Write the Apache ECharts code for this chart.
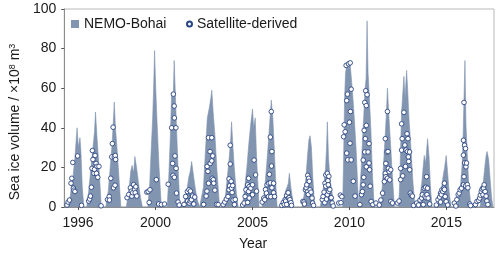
<!DOCTYPE html>
<html><head><meta charset="utf-8">
<script src="https://cdn.jsdelivr.net/npm/echarts@6/dist/echarts.min.js"></script>
<style>html,body{margin:0;padding:0;background:#fff}#c{width:500px;height:256px}</style>
</head><body><div id="c"></div><script>
// NEMO-Bohai modelled sea ice volume (decimal year, 10^8 m^3)
const nemoYear = [
1995.44,1995.59,1995.74,1995.84,1995.95,1996.02,1996.10,1996.15,1996.22,1996.30,
1996.45,1996.55,1996.65,1996.75,1996.85,1996.90,1996.98,1997.05,1997.13,1997.20,
1997.43,1997.56,1997.66,1997.76,1997.83,1997.87,1997.93,1998.01,1998.11,1998.21,
1998.49,1998.62,1998.72,1998.79,1998.87,1998.93,1999.02,1999.12,1999.22,1999.32,
1999.60,1999.70,1999.77,1999.85,1999.90,1999.95,2000.00,2000.08,2000.18,2000.30,
2000.60,2000.68,2000.76,2000.83,2000.91,2000.96,2001.01,2001.08,2001.16,2001.26,
2001.33,2001.49,2001.61,2001.71,2001.79,2001.86,2001.94,2002.04,2002.14,2002.27,
2002.37,2002.47,2002.57,2002.67,2002.77,2002.85,2002.90,2002.97,2003.07,2003.17,2003.30,
2003.48,2003.60,2003.70,2003.80,2003.88,2003.92,2003.98,2004.06,2004.16,2004.26,
2004.46,2004.58,2004.71,2004.81,2004.91,2005.00,2005.06,2005.14,2005.21,2005.34,
2005.49,2005.62,2005.72,2005.82,2005.89,2005.97,2006.05,2006.12,2006.20,2006.27,
2006.47,2006.60,2006.70,2006.78,2006.85,2006.90,2006.98,2007.05,2007.13,
2007.56,2007.66,2007.76,2007.83,2007.91,2007.97,2008.04,2008.11,2008.21,
2008.49,2008.59,2008.69,2008.77,2008.82,2008.86,2008.92,2008.99,2009.09,2009.22,
2009.65,2009.70,2009.75,2009.80,2009.88,2009.95,2010.03,2010.10,2010.18,2010.25,2010.35,2010.43,2010.48,
2010.53,2010.61,2010.68,2010.76,2010.81,2010.86,2010.91,2010.96,2011.03,2011.11,2011.18,2011.28,
2011.59,2011.69,2011.76,2011.84,2011.91,2011.96,2012.04,2012.12,2012.22,2012.32,
2012.54,2012.59,2012.64,2012.69,2012.81,2012.87,2012.95,2013.00,2013.07,2013.17,2013.28,2013.38,
2013.53,2013.63,2013.73,2013.80,2013.86,2013.93,2014.03,2014.11,2014.18,2014.26,
2014.53,2014.66,2014.76,2014.84,2014.91,2014.99,2015.06,2015.14,2015.24,
2015.54,2015.64,2015.74,2015.82,2015.87,2015.91,2015.96,2016.01,2016.07,2016.15,2016.27,
2016.73,2016.83,2016.90,2016.98,2017.05,2017.10,2017.18,2017.25,2017.33,2017.40
];
const nemoVolume = [
0,5,15,25,40,30,35,28,10,0,
0,8,18,28,38,48,35,25,12,0,
0,8,20,32,45,53,40,30,15,0,
0,8,18,21,17,25.5,20,12,5,0,
0,12,28,45,60,79,62,42,20,0,
0,15,35,58,55,74,60,40,20,0,
0,3,8,15,18,23,17,10,4,0,
0,10,28,45,50,55,59,48,35,18,0,
0,5,15,25,35,43,32,20,8,0,
0,8,20,32,42,49.5,40,45,25,0,
0,8,20,33,43,54,45,30,12,0,
0,3,8,10,12,17,10,5,0,
0,6,15,25,34,36,30,15,0,
0,5,12,20,30,43,25,15,8,0,
0,25,55,68,72,70,73,65,55,45,28,10,0,
0,20,35,50,60,65,94,68,55,38,18,0,
0,10,22,35,48,60,45,32,15,0,
0,12,30,48,66,55,69,60,45,30,12,0,
0,5,12,20,26,22,34.5,25,10,0,
0,4,10,16,20,26,18,8,0,
0,5,12,22,38,55,74,42,28,12,0,
0,5,12,20,26,28,24,15,5,0
];
// Satellite-derived sea ice volume
const satYear = [
1995.43,1995.49,1995.56,1995.64,1995.68,1995.73,1995.76,1995.79,1995.84,1995.98,1996.18,
1996.55,1996.60,1996.64,1996.69,1996.72,1996.74,1996.77,1996.82,1996.85,1996.88,1996.93,1996.95,1996.98,1997.02,1997.08,1997.19,
1997.52,1997.61,1997.62,1997.69,1997.74,1997.77,1997.81,1997.83,1997.87,1997.91,1997.92,1997.94,
1998.53,1998.62,1998.70,1998.75,1998.78,1998.82,1998.87,1998.92,1998.95,1998.98,1999.03,
1999.55,1999.62,1999.67,1999.71,2000.04,2000.16,2000.30,2000.46,
2000.65,2000.83,2000.88,2000.90,2000.92,2000.96,2000.97,2000.97,2001.00,2001.05,2001.06,2001.08,2001.16,2001.22,
2001.47,2001.55,2001.64,2001.65,2001.72,2001.74,2001.79,2001.80,2001.85,2001.89,2001.91,2001.97,2002.02,
2002.48,2002.61,2002.65,2002.66,2002.70,2002.73,2002.73,2002.81,2002.82,2002.90,2002.90,2002.92,2002.95,2002.98,2003.00,2003.06,2003.15,2003.23,
2003.49,2003.57,2003.65,2003.74,2003.79,2003.79,2003.82,2003.85,2003.85,2003.90,2003.92,2003.95,2003.98,2004.00,2004.07,2004.11,
2004.49,2004.57,2004.62,2004.66,2004.75,2004.75,2004.80,2004.80,2004.83,2004.83,2004.91,2005.00,2005.00,2005.08,2005.16,2005.21,
2005.50,2005.58,2005.63,2005.67,2005.72,2005.75,2005.83,2005.83,2005.87,2005.92,2005.92,2005.94,2005.97,2005.98,2006.00,2006.00,2006.09,2006.09,2006.14,
2006.51,2006.59,2006.64,2006.68,2006.71,2006.76,2006.76,2006.84,2006.85,2006.89,2006.93,2006.98,2007.01,
2007.60,2007.65,2007.68,2007.73,2007.77,2007.80,2007.85,2007.85,2007.88,2007.90,2007.93,2007.97,2008.02,2008.07,2008.10,2008.15,
2008.60,2008.64,2008.69,2008.73,2008.74,2008.78,2008.78,2008.82,2008.86,2008.86,2008.89,2008.91,2008.94,2008.94,2008.99,2009.03,2009.06,2009.11,2009.16,
2009.45,2009.53,2009.56,2009.61,2009.70,2009.73,2009.78,2009.83,2009.86,2009.86,2009.90,2009.91,2009.95,2010.00,2010.03,2010.04,2010.05,2010.09,2010.09,2010.20,2010.29,
2010.54,2010.62,2010.67,2010.71,2010.74,2010.71,2010.79,2010.82,2010.76,2010.87,2010.79,2010.87,2010.84,2010.91,2011.01,2010.96,2010.87,2011.01,2011.04,2011.07,2011.12,2011.21,
2011.37,2011.54,2011.62,2011.71,2011.80,2011.85,2011.85,2011.88,2011.88,2011.93,2011.96,2011.96,2011.99,2012.01,2012.05,2012.08,2012.13,2012.14,2012.22,
2012.47,2012.56,2012.64,2012.64,2012.69,2012.69,2012.72,2012.75,2012.81,2012.86,2012.89,2012.92,2012.97,2012.99,2013.02,2013.04,2013.06,2013.10,2013.11,2013.14,2013.19,2013.25,2013.31,
2013.47,2013.56,2013.64,2013.73,2013.76,2013.81,2013.86,2013.89,2013.93,2013.95,2013.98,2014.00,2014.03,2014.06,2014.14,
2014.48,2014.57,2014.65,2014.70,2014.70,2014.74,2014.77,2014.82,2014.87,2014.90,2014.90,2014.94,2014.99,2015.07,
2015.41,2015.49,2015.54,2015.61,2015.66,2015.71,2015.78,2015.88,2015.88,2015.88,2015.91,2015.91,2015.94,2015.94,2015.99,2015.99,2016.01,2016.04,2016.08,2016.11,2016.21,2016.25,
2016.50,2016.58,2016.67,2016.72,2016.75,2016.80,2016.84,2016.89,2016.89,2016.92,2016.95,2017.00,2017.05,2017.09,2017.14
];
const satVolume = [
1,2.5,3.5,12,14.5,22.5,9.5,8.5,7.8,25.8,0.8,
3,4,5.5,10,19.5,28.5,24,17,19,26,22,17,20.5,15,20.5,0.6,
3.7,5.3,3.5,14.5,25.3,32,40.3,9.7,25.3,11,26,24,
4.7,6.3,9.7,8,5.5,7.2,11.3,8.8,7.2,10.2,5.5,
7.5,7.8,2.3,8.7,13.8,1.5,1.2,1.5,
11.5,40,22,16,57,51,45,15,25.8,40,19.5,7,2.5,1,
1.3,5.3,7.8,3,8.7,2,3,8,3.7,6,5.5,1.5,5,
1.3,5.5,8,20.5,18,35,12,28,22,35,23.3,14.5,25.8,13.8,12,8.5,1.3,1.2,
1.2,2.5,4,5.3,8.7,14.2,10.7,21.7,31.2,13,9.5,7.3,10.8,3.5,1.2,3.8,
1,2,5.3,8.7,11.2,2.3,14.5,7.8,10.3,4.5,9.5,11.2,6.2,23.7,16.2,8,
2.5,4.5,3.7,8.8,7,11.2,12,5.3,16.5,35.3,12.2,5.2,48.2,20.7,28,9.7,12,7.2,5.3,
0.8,2.3,1.2,3.7,3,5.7,1.3,7.2,4.5,4.7,3.7,2.2,0.8,
2.8,2.5,1.5,8.7,9.7,11.2,16,7.8,6.3,14.5,13,8.7,7.5,4.5,2,0.8,
3.7,5.3,7.5,2.2,12,16.2,10.5,4,17,6.2,13.3,11.2,15.5,7.8,8.8,4.5,4.7,2,0.5,
2,6,2.2,5.2,35.5,41.5,38,71.5,53.7,27.2,57,23.8,72.3,42.8,32.2,72.8,48.2,59.5,23.8,13,5.5,
1.2,6.2,7.8,11.2,15,23.7,27.8,34.5,38.7,41.2,52.8,51.2,58.7,56.7,32,27.8,20.3,22.2,18.8,10.5,2.8,1.2,
2,1,3.5,7,12.8,17,34.5,15.3,22,27.8,48.2,14.5,28,19.5,17.8,13.7,18.8,2.8,2,
2,3,13.8,19.5,28.7,42,34.5,15.7,47.8,31.3,20.5,28.8,37,28,34.5,25.3,23,27.8,18.8,7,6,5.5,0.8,
2,1,3.5,4.5,6.2,1.2,9.5,5.3,10,4.7,15.3,6.3,9.5,4.5,1.5,
1,3.7,5,2.5,7,6.2,8.7,7.8,9.5,12,8.8,5.3,2.7,1,
2,0.5,3.7,6.2,7,8.7,9.5,11.2,33.7,26.2,52.8,15.3,31.2,22.3,29.5,10.7,20.3,22.2,11.3,9.7,1.5,0.7,
1.2,2.8,3.3,4.5,6,7.8,9,6.2,9.7,9.5,11.2,7.8,5.5,3,1.2
];
const yearTicks = [1996, 2000, 2005, 2010, 2015];
const seriesNames = ['NEMO-Bohai', 'Satellite-derived'];

const FONT = '"Liberation Sans", Arial, sans-serif';
const TXT = '#1a1a1a';
const AREA = '#8194b0';
const chart = echarts.init(document.getElementById('c'), null, {renderer: 'canvas'});
chart.setOption({
  animation: false,
  textStyle: {fontFamily: FONT},
  grid: {left: 54, right: 6, top: 9, bottom: 47, show: true, borderColor: '#b8b8b8', borderWidth: 1},
  legend: [
    {data: [{name: seriesNames[0], icon: 'rect'}], left: 71, top: 17, padding: 0,
     itemWidth: 8, itemHeight: 8, textStyle: {fontSize: 14, color: TXT, fontFamily: FONT}},
    {data: [{name: seriesNames[1], icon: 'circle'}], left: 186, top: 17, padding: 0,
     itemWidth: 5, itemHeight: 5, textStyle: {fontSize: 14, color: TXT, fontFamily: FONT}}
  ],
  xAxis: {
    type: 'value', min: 1995.29, max: 2017.457,
    splitLine: {show: false},
    axisLine: {show: true, onZero: false, lineStyle: {color: '#8c8c8c', width: 1}},
    axisTick: {show: true, length: 3, customValues: yearTicks, lineStyle: {color: '#555'}},
    axisLabel: {customValues: yearTicks, fontSize: 14, color: TXT, margin: 9,
                formatter: v => String(Math.round(v))},
    name: 'Year', nameLocation: 'middle', nameGap: 30,
    nameTextStyle: {fontSize: 14, color: TXT, padding: [0, 52, 0, 0]}
  },
  yAxis: {
    type: 'value', min: 0, max: 100, interval: 20,
    splitLine: {show: false},
    axisLine: {show: true, lineStyle: {color: '#8c8c8c', width: 1}},
    axisTick: {show: true, length: 3, lineStyle: {color: '#555'}},
    axisLabel: {fontSize: 14, color: TXT, margin: 8},
    name: '{t|Sea ice volume / ×10}{s|8}{t| m}{s|3}',
    nameLocation: 'middle', nameRotate: 90, nameGap: 36,
    nameTextStyle: {fontSize: 14, color: TXT, padding: [0, 28, 0, 0],
      rich: {t: {fontSize: 14, color: TXT, fontFamily: FONT},
             s: {fontSize: 9, color: TXT, fontFamily: FONT, verticalAlign: 'top'}}}
  },
  series: [
    {
      name: seriesNames[0], type: 'line',
      data: nemoYear.map((y, i) => [y, nemoVolume[i]]),
      showSymbol: false, symbol: 'none',
      lineStyle: {width: 0.6, color: AREA},
      itemStyle: {color: AREA},
      areaStyle: {color: AREA, opacity: 1},
      z: 1
    },
    {
      name: seriesNames[1], type: 'scatter',
      data: satYear.map((y, i) => [y, satVolume[i]]),
      symbol: 'circle', symbolSize: 4.6,
      itemStyle: {color: '#ffffff', borderColor: '#2a4585', borderWidth: 0.9, opacity: 1},
      z: 3
    }
  ]
});
</script></body></html>
